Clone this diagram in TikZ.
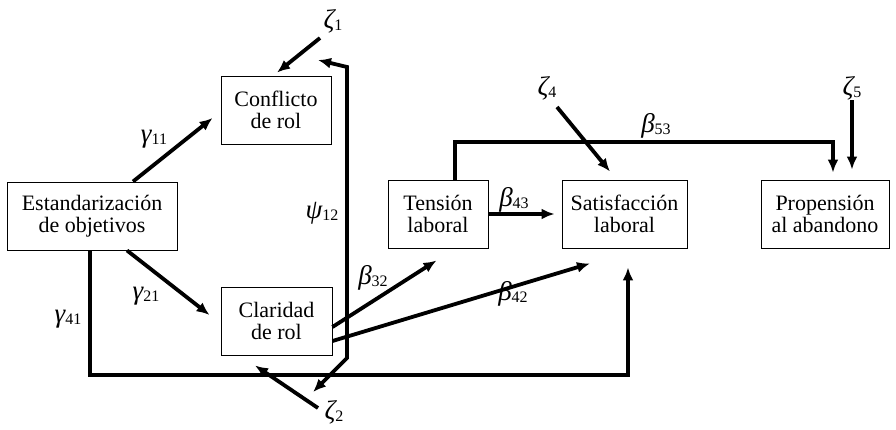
\documentclass[tikz,border=0pt]{standalone}
\usepackage{fontspec}
\setmainfont{Liberation Serif}
\usetikzlibrary{arrows.meta,calc}
\newcommand{\gsub}[2]{{\fontsize{27}{27}\selectfont\itshape #1}\raisebox{-2pt}{\fontsize{16}{16}\selectfont #2}}
\begin{document}
\begin{tikzpicture}[x=1pt,y=-1pt,
  box/.style={draw, line width=0.9pt, minimum height=68pt, align=center, inner sep=2pt, font=\fontsize{22}{22}\selectfont},
  arr/.style={line width=3.8pt, -{Latex[length=13pt,width=11pt]}},
  darr/.style={line width=3.8pt, {Latex[length=13pt,width=11pt]}-{Latex[length=13pt,width=11pt]}},
  lbl/.style={inner sep=0pt}]
\useasboundingbox (0,0) rectangle (896,429);
% boxes
\node[box, minimum width=110pt] (conf) at (276,110) {Conflicto\\de rol};
\node[box, minimum width=170pt] (est) at (92,216) {Estandarización\\de objetivos};
\node[box, minimum width=111pt] (clar) at (276.5,321) {Claridad\\de rol};
\node[box, minimum width=100pt] (ten) at (438,214) {Tensión\\laboral};
\node[box, minimum width=125pt] (sat) at (624.5,214) {Satisfacción\\laboral};
\node[box, minimum width=128pt] (prop) at (825,214) {Propensión\\al abandono};
% residuals
\node[lbl] (z1) at (333,21) {\gsub{ζ}{1}};
\node[lbl] (z2) at (334,412) {\gsub{ζ}{2}};
\node[lbl] (z4) at (547,88) {\gsub{ζ}{4}};
\node[lbl] (z5) at (852,88) {\gsub{ζ}{5}};
% coefficient labels
\node[lbl] at (154,139) {\gsub{γ}{11}};
\node[lbl] at (146,296) {\gsub{γ}{21}};
\node[lbl] at (68,319) {\gsub{γ}{41}};
\node[lbl] at (322,213) {\gsub{ψ}{12}};
\node[lbl] at (373,278) {\gsub{β}{32}};
\node[lbl] at (513,294) {\gsub{β}{42}};
\node[lbl] at (514,200) {\gsub{β}{43}};
\node[lbl] at (656,126) {\gsub{β}{53}};
% helper coordinates
\coordinate (low) at (0,375);
\coordinate (top53) at (0,142);
\coordinate (pA) at (347,67);
\coordinate (pB) at (347,358);
% arrows
\draw[arr] ([xshift=41pt]est.north) -- ([xshift=-8pt,yshift=-8pt]conf.west);
\draw[arr] ([xshift=35pt]est.south) -- ([xshift=-11pt,yshift=6pt]clar.west);
\draw[arr] ([xshift=-2pt]est.south) -- ([xshift=-2pt]est.south |- low) -| ([xshift=3.5pt,yshift=-19pt]sat.south);
\draw[arr] ([xshift=-13pt,yshift=-17pt]z1.center) -- ([xshift=1pt,yshift=3pt]conf.north);
\draw[darr] ([xshift=-15pt,yshift=-39pt]z1.center) -- (pA) -- (pB) -- ([xshift=-21pt,yshift=20pt]z2.center);
\draw[arr] ([xshift=-16pt,yshift=4pt]z2.center) -- ([xshift=-21.5pt,yshift=-10pt]clar.south);
\draw[arr] ([yshift=-6pt]clar.east) -- ([xshift=49pt,yshift=-12pt]ten.south west);
\draw[arr] ([yshift=-20pt]clar.east) -- ([xshift=-34.5pt,yshift=-15pt]sat.south);
\draw[arr] (ten.east) -- ([xshift=-7pt]sat.west);
\draw[arr] ([xshift=17pt]ten.north) -- ([xshift=17pt]ten.north |- top53) -| ([xshift=8pt,yshift=7pt]prop.north);
\draw[arr] ([xshift=10pt,yshift=-19pt]z4.center) -- ([xshift=-14.5pt,yshift=8pt]sat.north);
\draw[arr] ([yshift=-12pt]z5.center) -- ([xshift=27pt,yshift=10pt]prop.north);
\end{tikzpicture}
\end{document}
